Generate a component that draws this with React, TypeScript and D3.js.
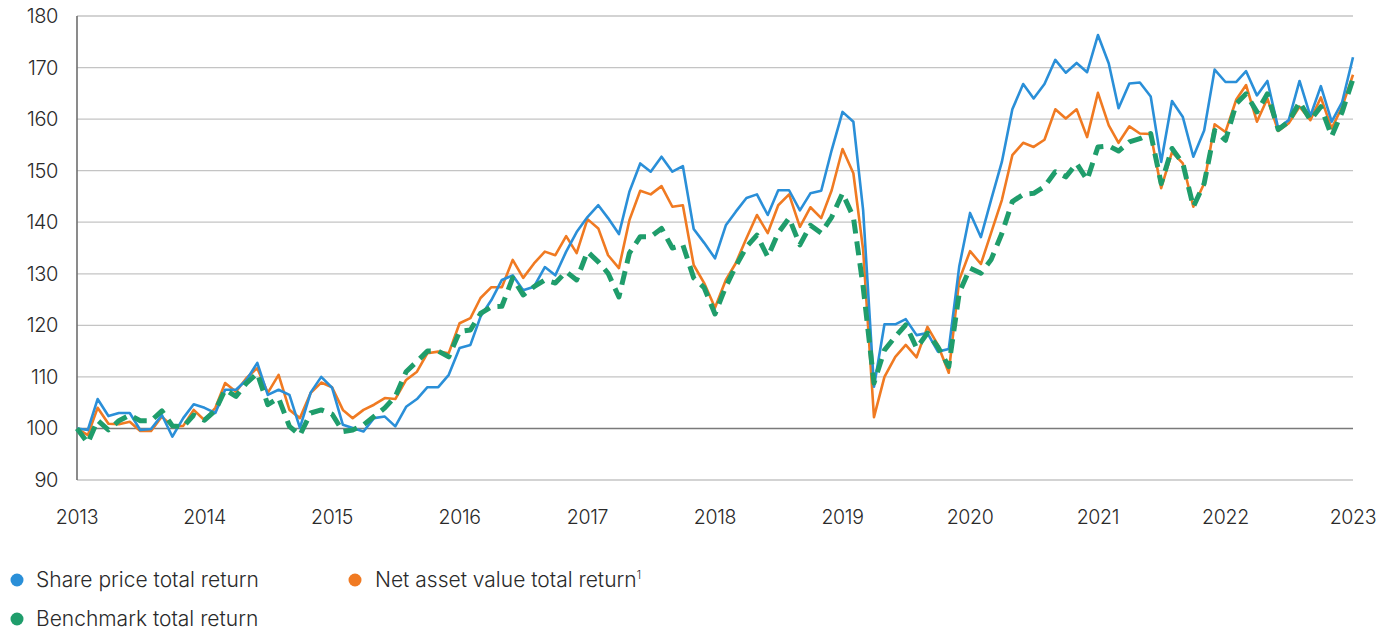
import React from "react";
import * as d3 from "d3";

const startYear = 2013;
const yearTicks = [2013, 2014, 2015, 2016, 2017, 2018, 2019, 2020, 2021, 2022, 2023];
const yTicks = [90, 100, 110, 120, 130, 140, 150, 160, 170, 180];

const sharePrice = [
  100, 99.7, 105.7, 102.4, 103, 103, 99.7, 99.9, 102.6, 98.4, 102, 104.7,
  104, 103, 107.5, 107.5, 109.4, 112.7, 106.5, 107.5, 106.5, 100.1, 107, 110,
  107.9, 100.7, 100.1, 99.4, 102, 102.3, 100.4, 104.2, 105.7, 108, 108, 110.4,
  115.6, 116.2, 121.7, 124.9, 128.8, 129.7, 126.8, 127.5, 131.3, 129.7, 134.3, 138.1,
  141, 143.3, 140.8, 137.7, 145.9, 151.4, 149.8, 152.7, 149.8, 150.9, 138.7, 136,
  133, 139.4, 142, 144.7, 145.4, 141.4, 146.2, 146.2, 142.3, 145.6, 146.1, 154,
  161.4, 159.5, 142.3, 108.1, 120.2, 120.2, 121.2, 118.1, 118.5, 114.9, 115.4, 131.4,
  141.8, 137.1, 144.3, 151.7, 161.9, 166.8, 164, 166.8, 171.5, 169, 170.9, 169.1,
  176.3, 170.8, 162.1, 166.9, 167.1, 164.4, 151.7, 163.5, 160.4, 152.7, 157.8, 169.6,
  167.2, 167.2, 169.3, 164.6, 167.4, 158.2, 159.8, 167.4, 160.6, 166.4, 159.5, 163.3,
  172,
];

const navReturn = [
  100, 98.7, 104, 100.9, 100.8, 101.3, 99.5, 99.5, 102.3, 100.4, 100.5, 103.6,
  101.6, 104, 108.8, 107.1, 109.8, 111.7, 106.9, 110.4, 103.6, 102, 106.9, 108.9,
  108, 103.6, 102, 103.6, 104.6, 105.9, 105.7, 109.4, 111, 114.6, 114.9, 114.6,
  120.4, 121.4, 125.3, 127.4, 127.4, 132.7, 129.2, 132, 134.3, 133.6, 137.3, 134,
  140.6, 138.8, 133.6, 131.1, 140.4, 146.1, 145.4, 147, 143, 143.3, 131.7, 128.2,
  123.4, 128.8, 132, 136.9, 141.4, 137.9, 143.3, 145.4, 139.1, 142.9, 140.8, 146.2,
  154.2, 149.5, 134.6, 102.2, 110, 113.9, 116.2, 113.8, 119.7, 116.2, 110.8, 128.8,
  134.4, 131.9, 137.9, 144.3, 153, 155.4, 154.6, 156, 161.9, 160.1, 161.9, 156.5,
  165.1, 158.8, 155.4, 158.6, 157.2, 157.1, 146.6, 153.6, 151.4, 143, 147.5, 159,
  157.5, 163.8, 166.6, 159.5, 164, 157.7, 159.2, 162.4, 159.8, 164.2, 158.2, 162.4,
  168.6,
];

const benchmark = [
  100, 97.2, 101.6, 99.7, 101.5, 102.6, 101.5, 101.5, 103.4, 100.5, 100.3, 102.6,
  101.6, 103.5, 107.5, 106.2, 108.8, 110.7, 104.6, 105.9, 100.4, 98.7, 103, 103.6,
  102.8, 99.4, 99.7, 100.7, 102.3, 104, 106.2, 111, 113, 115, 115, 113.9,
  118.8, 119.1, 122.3, 123.6, 123.7, 129.2, 125.9, 127.5, 128.8, 128.2, 130.4, 128.8,
  134.3, 132.3, 130.1, 125.5, 134, 137.2, 137.2, 138.8, 135, 135.6, 129.2, 127.3,
  122.2, 127.5, 131.4, 135.2, 137.5, 133.3, 137.9, 140.8, 135.6, 139.4, 137.9, 141,
  145.6, 141, 127.5, 108.8, 115.2, 117.8, 120.1, 115.6, 118.5, 115.8, 112, 126.3,
  131.1, 130.1, 132.7, 137.8, 144, 145.4, 145.6, 146.9, 149.8, 148.8, 151.4, 148.2,
  154.6, 154.8, 153.8, 155.6, 156.2, 157.2, 147.5, 154.3, 151.4, 143, 147.5, 157.8,
  155.9, 163, 164.9, 161.4, 164.9, 158, 159.5, 163.3, 159.8, 162.4, 156.7, 161.4,
  167.8,
];

const seriesNames = ["Share price total return", "Net asset value total return", "Benchmark total return"];
const colors = { share: "#2a8fd8", nav: "#f07a22", bench: "#1f9d6b" };

const W = 1393;
const H = 633;
const left = 77;
const right = 1353;
const top = 16;
const bottom = 480;

export default function App() {
  const x = d3
    .scaleTime()
    .domain([new Date(startYear, 0, 1), new Date(2023, 0, 1)])
    .range([left, right]);
  const y = d3.scaleLinear().domain([90, 180]).range([bottom, top]);
  const dateOf = (i: number) => new Date(startYear, i, 1);
  const line = d3
    .line<number>()
    .x((_, i) => x(dateOf(i)))
    .y((d) => y(d));

  const font = "Inter, 'Open Sans', sans-serif";
  const textColor = "#2a2a2a";

  return (
    <svg
      width={W}
      height={H}
      style={{ position: "absolute", left: 0, top: 0, background: "#fff" }}
      fontFamily={font}
    >
      {yTicks.map((t) => (
        <g key={t}>
          <line
            x1={left}
            x2={right}
            y1={y(t)}
            y2={y(t)}
            stroke={t === 100 ? "#7a7a7a" : "#c4c4c4"}
            strokeWidth={t === 100 ? 1.6 : 1.3}
          />
          <text
            x={58}
            y={y(t)}
            dy="0.35em"
            textAnchor="end"
            fontSize={20}
            fontWeight={300}
            letterSpacing={-0.4}
            fill={textColor}
          >
            {t}
          </text>
        </g>
      ))}
      <line x1={left} x2={left} y1={top} y2={bottom} stroke="#6f6f6f" strokeWidth={1.6} />
      {yearTicks.map((yr) => (
        <text
          key={yr}
          x={x(new Date(yr, 0, 1))}
          y={517}
          dy="0.35em"
          textAnchor="middle"
          fontSize={19.5}
          fontWeight={300}
          letterSpacing={-0.3}
          fill={textColor}
        >
          {yr}
        </text>
      ))}
      <path d={line(navReturn) || ""} fill="none" stroke={colors.nav} strokeWidth={2.6} strokeLinejoin="round" />
      <path d={line(sharePrice) || ""} fill="none" stroke={colors.share} strokeWidth={2.6} strokeLinejoin="round" />
      <path
        d={line(benchmark) || ""}
        fill="none"
        stroke={colors.bench}
        strokeWidth={5}
        strokeDasharray="14 8"
        strokeLinejoin="round"
      />
      <g fontSize={21} fontWeight={300} fill={textColor}>
        <circle cx={17} cy={580} r={6.5} fill={colors.share} />
        <text x={36} y={580} dy="0.35em">{seriesNames[0]}</text>
        <circle cx={355} cy={580} r={6.5} fill={colors.nav} />
        <text x={375} y={580} dy="0.35em">
          {seriesNames[1]}
          <tspan fontSize={11} dy="-0.8em">1</tspan>
        </text>
        <circle cx={17} cy={619} r={6.5} fill={colors.bench} />
        <text x={36} y={619} dy="0.35em">{seriesNames[2]}</text>
      </g>
    </svg>
  );
}
